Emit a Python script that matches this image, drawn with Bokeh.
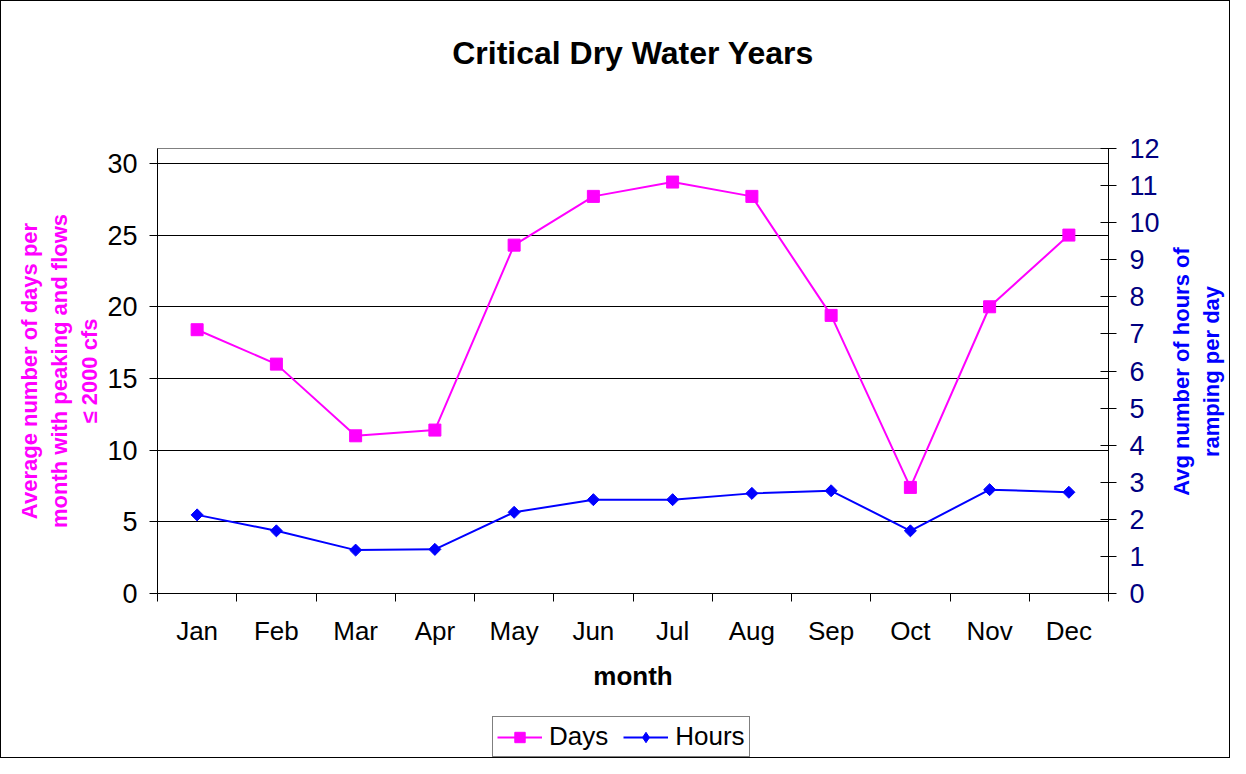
import math
from bokeh.plotting import figure
from bokeh.layouts import column, row
from bokeh.models import (Range1d, LinearAxis, FixedTicker, Legend, LegendItem,
                          ColumnDataSource, InlineStyleSheet, Title, Label)
from bokeh.embed import file_html
from bokeh.resources import INLINE

# ---- data ----
months = ["Jan", "Feb", "Mar", "Apr", "May", "Jun",
          "Jul", "Aug", "Sep", "Oct", "Nov", "Dec"]
days = [18.4, 16.0, 11.0, 11.4, 24.3, 27.7, 28.7, 27.7, 19.4, 7.4, 20.0, 25.0]
hours = [2.12, 1.69, 1.17, 1.19, 2.19, 2.53, 2.53, 2.70, 2.77, 1.69, 2.80, 2.73]
left_ticks = [0, 5, 10, 15, 20, 25, 30]
right_ticks = [0, 1, 2, 3, 4, 5, 6, 7, 8, 9, 10, 11, 12]

title_text = "Critical Dry Water Years"
left_label = "Average number of days per\nmonth with peaking and flows\n\u2264 2000 cfs"
right_label = "Avg number of hours of\nramping per day"
x_label = "month"
series_names = ["Days", "Hours"]

FONT = "Liberation Sans"
W = 1230
PW = 1168          # main plot width; the rest holds the right axis title
TOP, BOTTOM = 148, 117

centers = [i + 0.5 for i in range(len(months))]
bounds = [i for i in range(len(months) + 1)]
src = ColumnDataSource(dict(x=centers, days=days, hours=hours))

frame_css = InlineStyleSheet(css="""
:host { position: relative; background: white; }
:host::after { content: ""; position: absolute; left: 0; top: 0; right: 0; bottom: 0;
               border: 1px solid #000000; pointer-events: none; z-index: 100; }
""")

p = figure(width=PW, height=710,
           x_range=Range1d(0, 12), y_range=Range1d(0, 31.04),
           output_backend="svg", toolbar_location=None,
           min_border_left=157, min_border_right=PW - 1108,
           min_border_top=TOP, min_border_bottom=BOTTOM)
p.background_fill_color = "white"
p.border_fill_color = "white"
p.outline_line_color = "#808080"
p.outline_line_width = 1

# title: spacer (closest to frame) then the real title
top_spacer = Title(text=" ", text_font_size="1px", standoff=70)
p.add_layout(top_spacer, "above")
main_title = Title(text=title_text, align="center", text_font=FONT,
                   text_font_size="32px", text_font_style="bold",
                   text_color="black", standoff=10)
p.add_layout(main_title, "above")

# grid
p.xgrid.visible = False
p.ygrid.ticker = FixedTicker(ticks=left_ticks)
p.ygrid.grid_line_color = "black"
p.ygrid.grid_line_width = 1

# x axis
xa = p.xaxis[0]
xa.ticker = FixedTicker(ticks=centers, minor_ticks=bounds)
xa.major_label_overrides = {c: m for c, m in zip(centers, months)}
xa.major_tick_out = 0
xa.major_tick_in = 0
xa.minor_tick_out = 8
xa.minor_tick_in = 0
xa.minor_tick_line_color = "black"
xa.axis_line_color = "black"
xa.major_label_text_font = FONT
xa.major_label_text_font_size = "26px"
xa.major_label_text_color = "black"
xa.major_label_standoff = 14
xa.axis_label = x_label
xa.axis_label_text_font = FONT
xa.axis_label_text_font_size = "26px"
xa.axis_label_text_font_style = "bold"
xa.axis_label_text_color = "black"
xa.axis_label_standoff = 12

# left axis
ya = p.yaxis[0]
ya.ticker = FixedTicker(ticks=left_ticks)
ya.major_tick_out = 8
ya.major_tick_in = 0
ya.minor_tick_line_color = None
ya.axis_line_color = "black"
ya.major_label_text_font = FONT
ya.major_label_text_font_size = "27px"
ya.major_label_text_color = "black"
ya.major_label_standoff = 12
ya.axis_label = left_label
ya.axis_label_text_font = FONT
ya.axis_label_text_font_size = "22px"
ya.axis_label_text_font_style = "bold"
ya.axis_label_text_color = "#FF00FF"
ya.axis_label_text_line_height = 1.2
ya.axis_label_standoff = 2

# right axis
p.extra_y_ranges = {"hours": Range1d(0, 12)}
ra = LinearAxis(y_range_name="hours", ticker=FixedTicker(ticks=right_ticks))
ra.major_tick_out = 8
ra.major_tick_in = 8
ra.minor_tick_line_color = None
ra.axis_line_color = "black"
ra.major_label_text_font = FONT
ra.major_label_text_font_size = "27px"
ra.major_label_text_color = "#000080"
ra.major_label_standoff = 13
p.add_layout(ra, "right")

# series
p.line("x", "days", source=src, line_color="#FF00FF", line_width=2)
p.scatter("x", "days", source=src, marker="square", size=12,
          fill_color="#FF00FF", line_color="#FF00FF")
p.line("x", "hours", source=src, y_range_name="hours",
       line_color="#0000FF", line_width=2)
p.scatter("x", "hours", source=src, y_range_name="hours", marker="square",
          angle=math.pi / 4, size=8.5, fill_color="#0000FF", line_color="#0000FF")

# ---- right axis title strip (reads bottom to top, like the original) ----
rf = figure(width=W - PW, height=710, x_range=Range1d(0, 1), y_range=Range1d(0, 1),
            x_axis_type=None, y_axis_type=None, output_backend="svg",
            toolbar_location=None, min_border_left=0, min_border_right=0,
            min_border_top=TOP, min_border_bottom=BOTTOM)
rf.outline_line_color = None
rf.background_fill_color = "white"
rf.border_fill_color = "white"
rf.grid.visible = False
rlab = Label(x=28, y=222, x_units="screen", y_units="screen", text=right_label,
             angle=math.pi / 2, text_align="center", text_baseline="middle",
             text_font=FONT, text_font_size="22px", text_font_style="bold",
             text_color="#0000FF", text_line_height=1.2)
rf.add_layout(rlab)

# ---- legend strip below the chart ----
lf = figure(width=W, height=48, x_range=Range1d(0, 12), y_range=Range1d(-20, -10),
            x_axis_type=None, y_axis_type=None, output_backend="svg",
            toolbar_location=None,
            min_border_left=157, min_border_right=122, min_border_top=0, min_border_bottom=0)
lf.outline_line_color = None
lf.background_fill_color = "white"
lf.border_fill_color = "white"
lf.grid.visible = False
# same series styles (data lie outside this strip's range, only the key is shown)
k1l = lf.line("x", "days", source=src, line_color="#FF00FF", line_width=2)
k1s = lf.scatter("x", "days", source=src, marker="square", size=12,
                 fill_color="#FF00FF", line_color="#FF00FF")
k2l = lf.line("x", "hours", source=src, line_color="#0000FF", line_width=2)
k2s = lf.scatter("x", "hours", source=src, marker="diamond", size=15,
                 fill_color="#0000FF", line_color="#0000FF")

legend = Legend(items=[LegendItem(label=series_names[0], renderers=[k1l, k1s]),
                       LegendItem(label=series_names[1], renderers=[k2l, k2s])],
                orientation="horizontal", location=(335, 1))
legend.margin = 0
legend.padding = 4
legend.spacing = 15
legend.glyph_width = 45
legend.glyph_height = 26
legend.label_standoff = 7
legend.label_text_font = FONT
legend.label_text_font_size = "26px"
legend.label_text_color = "black"
legend.border_line_color = "black"
legend.border_line_width = 1
legend.background_fill_color = "white"
legend.background_fill_alpha = 1
lf.add_layout(legend, "center")

layout = column(row(p, rf, spacing=0), lf, spacing=0, stylesheets=[frame_css])

open("out.html", "w").write(file_html(layout, INLINE))
